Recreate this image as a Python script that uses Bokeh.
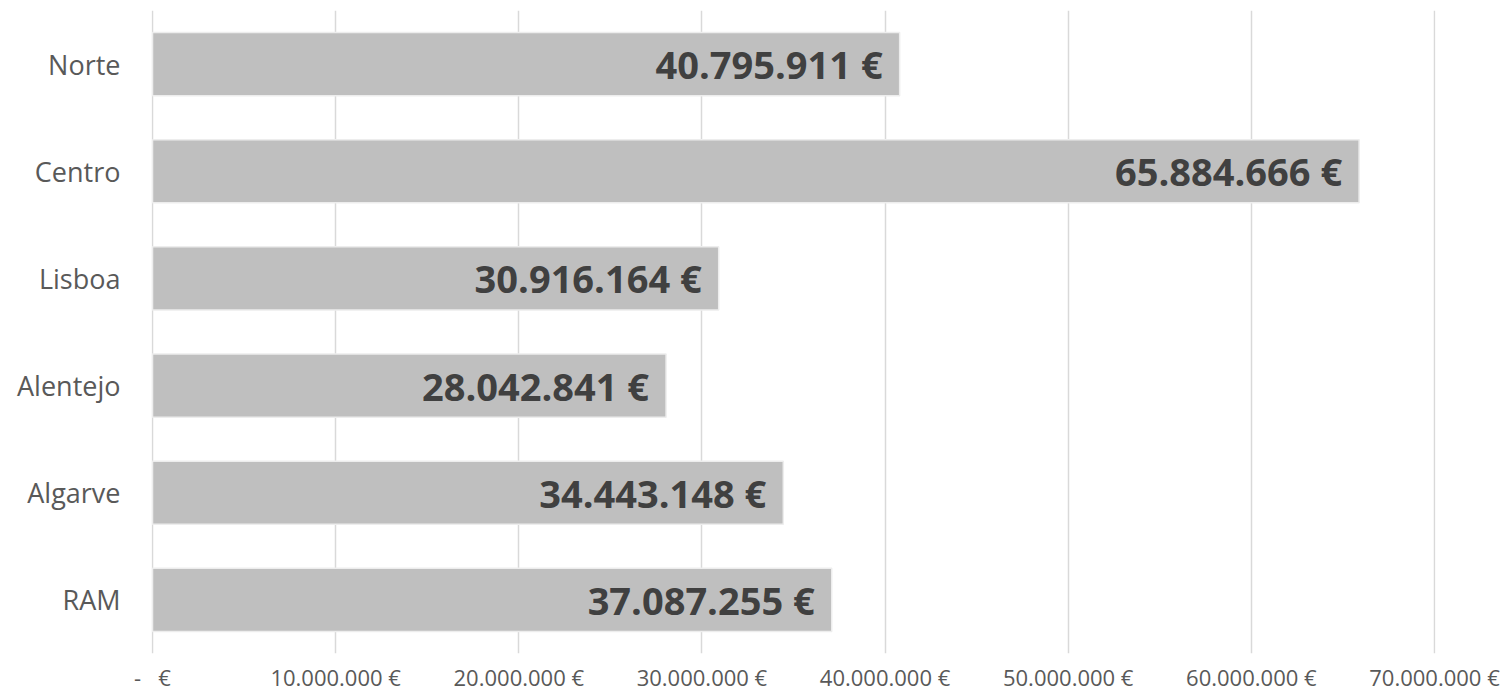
from bokeh.plotting import figure
from bokeh.models import ColumnDataSource, FixedTicker, CustomJSTickFormatter, Range1d, FactorRange
from bokeh.core.properties import value
from bokeh.embed import file_html
from bokeh.resources import INLINE

regions = ["Norte", "Centro", "Lisboa", "Alentejo", "Algarve", "RAM"]
amounts = [40795911, 65884666, 30916164, 28042841, 34443148, 37087255]
x_ticks = [0, 10000000, 20000000, 30000000, 40000000, 50000000, 60000000, 70000000]


def fmt(v):
    return "{:,}".format(v).replace(",", ".") + " €"


labels = [fmt(v) for v in amounts]
src = ColumnDataSource(dict(region=regions, amount=amounts, label=labels))

p = figure(width=1502, height=695, output_backend="svg", toolbar_location=None,
           y_range=FactorRange(factors=list(reversed(regions)), range_padding=0),
           x_range=Range1d(-55000, 70055000),
           min_border_left=151, min_border_right=67, min_border_top=10, min_border_bottom=42)
p.outline_line_color = None
p.background_fill_color = "white"
p.border_fill_color = "white"

p.hbar(y="region", right="amount", left=0, height=0.59, source=src,
       fill_color="#bfbfbf", line_color="#ededed", line_width=1.5)
p.text(x="amount", y="region", text="label", source=src, x_offset=-17,
       text_align="right", text_baseline="middle", text_color="#404040",
       text_font=value("Open Sans"), text_font_style="bold", text_font_size="38px")

p.ygrid.grid_line_color = None
p.xgrid.grid_line_color = "#d9d9d9"
p.xgrid.grid_line_width = 1.5

xa = p.xaxis[0]
xa.ticker = FixedTicker(ticks=x_ticks)
xa.formatter = CustomJSTickFormatter(code="""
if (tick == 0) { return "-\\u00a0\\u00a0\\u00a0€"; }
return String(Math.round(tick)).replace(/\\B(?=(\\d{3})+(?!\\d))/g, ".") + " €";
""")
xa.axis_line_color = None
xa.major_tick_line_color = None
xa.minor_tick_line_color = None
xa.major_tick_out = 0
xa.major_tick_in = 0
xa.major_label_standoff = 8
xa.major_label_text_font = "Open Sans"
xa.major_label_text_font_size = "22px"
xa.major_label_text_color = "#595959"

ya = p.yaxis[0]
ya.axis_line_color = None
ya.major_tick_line_color = None
ya.minor_tick_line_color = None
ya.major_tick_out = 0
ya.major_tick_in = 0
ya.major_label_standoff = 31
ya.major_label_text_font = "Open Sans"
ya.major_label_text_font_size = "27px"
ya.major_label_text_color = "#595959"

open("out.html", "w").write(file_html(p, INLINE))
